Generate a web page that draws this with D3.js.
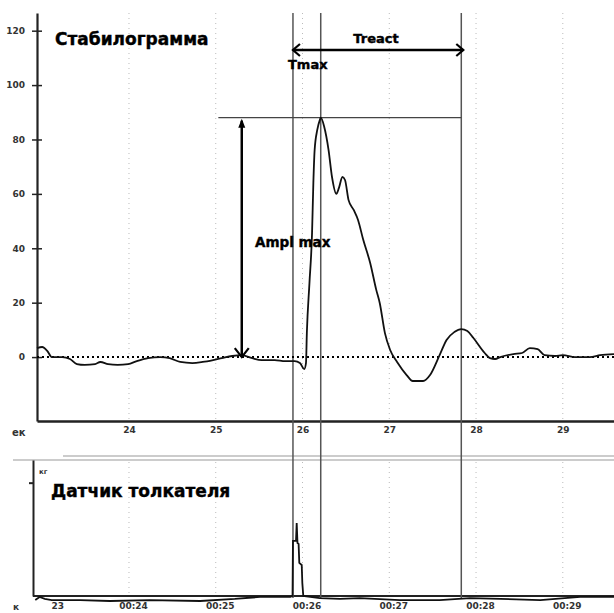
<!DOCTYPE html>
<html>
<head>
<meta charset="utf-8">
<script src="https://cdn.jsdelivr.net/npm/d3@7"></script>
<style>
  html, body { margin: 0; padding: 0; background: #fff; }
  svg { display: block; }
  .title { font-family: "DejaVu Sans", Verdana, sans-serif; font-weight: bold; fill: #000; stroke: #000; stroke-width: 0.4; }
  .tick text { font-family: "DejaVu Sans", sans-serif; font-size: 9px; font-weight: bold; fill: #333; }
</style>
</head>
<body>
<div id="chart"></div>
<script>
// seconds on the time axis
const secTicks = [23, 24, 25, 26, 27, 28, 29];
const secLabels = ['', '24', '25', '26', '27', '28', '29'];
const timeLabels = ['23', '00:24', '00:25', '00:26', '00:27', '00:28', '00:29'];
const ampTicks = [0, 20, 40, 60, 80, 100, 120];

// stabilogram trace (seconds, amplitude)
const stabT = [22.94, 23.00, 23.06, 23.11, 23.23, 23.32, 23.40, 23.49, 23.61, 23.67,
  23.76, 23.87, 23.99, 24.09, 24.22, 24.36, 24.47, 24.59, 24.73, 24.85,
  24.97, 25.07, 25.19, 25.30, 25.42, 25.53, 25.68, 25.80, 25.91, 25.97,
  26.02, 26.04, 26.05, 26.08, 26.11, 26.125, 26.14, 26.17, 26.20, 26.21,
  26.25, 26.30, 26.34, 26.39, 26.42, 26.46, 26.49, 26.53, 26.59, 26.64,
  26.70, 26.78, 26.85, 26.89, 26.95, 27.01, 27.09, 27.20, 27.27, 27.39,
  27.47, 27.58, 27.66, 27.75, 27.83, 27.90, 27.97, 28.10, 28.16, 28.22,
  28.28, 28.43, 28.53, 28.62, 28.71, 28.79, 28.91, 29.00, 29.14, 29.31,
  29.43, 29.59];
const stabV = [3.3, 3.7, 2.2, 0, 0, -0.7, -2.6, -2.9, -2.6, -1.8,
  -2.6, -2.9, -2.6, -1.5, -0.4, 0, -0.4, -1.8, -2.2, -1.8,
  -1.1, -0.4, 0.4, 0.7, -0.4, -1.1, -1.1, -1.5, -1.5, -2.2,
  -4.4, -2.2, 8.8, 27.2, 45.6, 64, 76.2, 83.5, 87.2, 88,
  84.7, 76.2, 66.2, 60, 62.2, 66.2, 65.1, 57.8, 54.1, 50.4,
  43.1, 34.6, 24.7, 19.9, 8.8, 2.6, -1.8, -6.6, -8.8, -8.8,
  -6.6, 0.7, 6.3, 9.2, 10.3, 9.6, 7.0, 1.5, -0.4, -0.7,
  0, 1.1, 1.5, 3.3, 2.9, 0.7, 0.4, 0.7, 0, 0,
  0.7, 1.1];

// pusher sensor trace (seconds, kg)
const pushT = [22.92, 22.97, 23.03, 23.11, 23.44, 23.78, 24.24, 24.82, 25.22, 25.51,
  25.86, 25.885, 25.89, 25.925, 25.933, 25.942, 25.955, 25.963, 25.991, 25.998,
  26.009, 26.20, 26.43, 26.66, 27.12, 27.58, 27.93, 28.28, 28.74, 29.20, 29.59];
const pushV = [-0.18, -0.04, -0.13, -0.18, -0.18, -0.22, -0.18, -0.22, -0.13, -0.04,
  -0.04, 0, 2.43, 2.43, 3.22, 2.34, 2.3, 1.46, 1.37, 0.57,
  0, -0.09, -0.13, -0.09, -0.18, -0.18, -0.09, -0.13, -0.18, -0.04, -0.04];

// markers
const tStart = 25.89;
const tPeak = 26.21;
const tEnd = 27.83;
const ampMax = 88;
const ampArrowT = 25.30;
const ampLineFrom = 25.03;

const width = 614;
const height = 613;

const svg = d3.select('#chart').append('svg')
  .attr('width', width)
  .attr('height', height);

const x = d3.scaleLinear().domain([22.94, 29.59]).range([37, 614]);
const yTop = d3.scaleLinear().domain([-23.5, 126.5]).range([421, 13]);
const yBot = d3.scaleLinear().domain([0, 6]).range([596, 460]);

// dotted vertical grid
svg.append('g').selectAll('line.gt')
  .data(secTicks.slice(1))
  .enter().append('line')
  .attr('x1', d => x(d)).attr('x2', d => x(d))
  .attr('y1', 13).attr('y2', 421)
  .attr('stroke', '#bbb').attr('stroke-dasharray', '1,4');

svg.append('g').selectAll('line.gb')
  .data(secTicks.slice(1))
  .enter().append('line')
  .attr('x1', d => x(d)).attr('x2', d => x(d))
  .attr('y1', 462).attr('y2', 596)
  .attr('stroke', '#bbb').attr('stroke-dasharray', '1,4');

// top chart axes
svg.append('g')
  .attr('transform', 'translate(37,0)')
  .call(d3.axisLeft(yTop).tickValues(ampTicks).tickSize(5).tickSizeOuter(0).tickPadding(7))
  .call(g => g.select('.domain').attr('stroke', '#222').attr('stroke-width', 2.2))
  .call(g => g.selectAll('.tick line').attr('x1', 5).attr('x2', -5).attr('stroke', '#222').attr('stroke-width', 1.5));

svg.append('g')
  .attr('transform', 'translate(0,421)')
  .call(d3.axisBottom(x).tickValues(secTicks).tickSize(0).tickPadding(6)
    .tickFormat((d, i) => secLabels[i]))
  .call(g => g.select('.domain').attr('stroke', '#222').attr('stroke-width', 2.5))
  .call(g => g.selectAll('.tick text').attr('font-size', 10));

svg.append('text').attr('x', 12).attr('y', 436)
  .attr('font-family', 'DejaVu Sans, sans-serif').attr('font-size', 10).attr('font-weight', 'bold').attr('fill', '#333')
  .text('ек');

// bottom chart frame
svg.append('line').attr('x1', 63).attr('x2', 614).attr('y1', 456).attr('y2', 456)
  .attr('stroke', '#999').attr('stroke-width', 1.2);
svg.append('line').attr('x1', 13).attr('x2', 614).attr('y1', 460).attr('y2', 460)
  .attr('stroke', '#999').attr('stroke-width', 1.2);

svg.append('g')
  .attr('transform', 'translate(33,0)')
  .call(d3.axisLeft(yBot).tickValues([5]).tickSize(4).tickSizeOuter(0).tickFormat(''))
  .call(g => g.select('.domain').attr('stroke', '#222').attr('stroke-width', 2))
  .call(g => g.selectAll('.tick line').attr('stroke', '#222').attr('stroke-width', 2));

const botAxis = d3.scaleLinear().domain(x.domain()).range(x.range());
svg.append('g')
  .attr('transform', 'translate(0,596)')
  .call(d3.axisBottom(botAxis).tickValues(secTicks).tickSize(0).tickPadding(7)
    .tickFormat((d, i) => timeLabels[i]))
  .call(g => g.select('.domain').remove())
  .call(g => g.selectAll('.tick text').attr('dx', (d, i) => i === 0 ? 15 : 4));

svg.append('line').attr('x1', 33).attr('x2', 614).attr('y1', 596).attr('y2', 596)
  .attr('stroke', '#222').attr('stroke-width', 2);

svg.append('text').attr('x', 13).attr('y', 610)
  .attr('font-family', 'DejaVu Sans, sans-serif').attr('font-size', 9).attr('font-weight', 'bold').attr('fill', '#333')
  .text('к');
svg.append('text').attr('x', 39).attr('y', 474)
  .attr('font-family', 'DejaVu Sans, sans-serif').attr('font-size', 7).attr('font-weight', 'bold').attr('fill', '#333')
  .text('кг');

// marker lines
svg.append('g').selectAll('line.mk')
  .data([tStart, tPeak, tEnd])
  .enter().append('line')
  .attr('x1', d => x(d)).attr('x2', d => x(d))
  .attr('y1', 13).attr('y2', 598)
  .attr('stroke', '#555').attr('stroke-width', 1.5);

svg.append('line')
  .attr('x1', x(ampLineFrom)).attr('x2', x(tEnd))
  .attr('y1', yTop(ampMax)).attr('y2', yTop(ampMax))
  .attr('stroke', '#444').attr('stroke-width', 1.3);

// zero reference
svg.append('line')
  .attr('x1', 37).attr('x2', 614)
  .attr('y1', yTop(0)).attr('y2', yTop(0))
  .attr('stroke', '#000').attr('stroke-width', 2).attr('stroke-dasharray', '2,3');

// traces
const stab = stabT.map((t, i) => [t, stabV[i]]);
const push = pushT.map((t, i) => [t, pushV[i]]);

svg.append('path')
  .datum(stab)
  .attr('fill', 'none').attr('stroke', '#111').attr('stroke-width', 1.8)
  .attr('d', d3.line().x(d => x(d[0])).y(d => yTop(d[1])).curve(d3.curveMonotoneX));

svg.append('path')
  .datum(push)
  .attr('fill', 'none').attr('stroke', '#111').attr('stroke-width', 1.8)
  .attr('d', d3.line().x(d => x(d[0])).y(d => yBot(d[1])));

// Ampl max arrow
const ax = x(ampArrowT);
const aTop = yTop(ampMax);
const aBot = yTop(0);
svg.append('line').attr('x1', ax).attr('x2', ax).attr('y1', aTop + 3).attr('y2', aBot)
  .attr('stroke', '#000').attr('stroke-width', 2.5);
svg.append('path')
  .attr('d', `M${ax - 3.5},${aTop + 10}L${ax},${aTop + 1}L${ax + 3.5},${aTop + 10}Z`)
  .attr('fill', '#000');
svg.append('path')
  .attr('d', `M${ax - 7},${aBot - 9}L${ax},${aBot}L${ax + 7},${aBot - 9}`)
  .attr('fill', 'none').attr('stroke', '#000').attr('stroke-width', 2.2);

// Treact arrow
const ry = 50;
const rx1 = x(tStart);
const rx2 = x(tEnd) + 2;
svg.append('line').attr('x1', rx1).attr('x2', rx2).attr('y1', ry).attr('y2', ry)
  .attr('stroke', '#000').attr('stroke-width', 2.5);
svg.append('path')
  .attr('d', `M${rx1 + 7},${ry - 6}L${rx1},${ry}L${rx1 + 7},${ry + 6}`)
  .attr('fill', 'none').attr('stroke', '#000').attr('stroke-width', 2.2);
svg.append('path')
  .attr('d', `M${rx2 - 7},${ry - 6}L${rx2},${ry}L${rx2 - 7},${ry + 6}`)
  .attr('fill', 'none').attr('stroke', '#000').attr('stroke-width', 2.2);

// labels
svg.append('text').attr('class', 'title').attr('x', 55).attr('y', 45).attr('font-size', 17)
  .text('Стабилограмма');
svg.append('text').attr('class', 'title').attr('x', 51).attr('y', 497).attr('font-size', 17)
  .text('Датчик толкателя');
svg.append('text').attr('class', 'title').attr('x', 376).attr('y', 43).attr('font-size', 13)
  .attr('text-anchor', 'middle').text('Treact');
svg.append('text').attr('class', 'title').attr('x', 288).attr('y', 69).attr('font-size', 13)
  .text('Tmax');
svg.append('text').attr('class', 'title').attr('x', 255).attr('y', 247).attr('font-size', 13.5)
  .text('Ampl max');
</script>
</body>
</html>
